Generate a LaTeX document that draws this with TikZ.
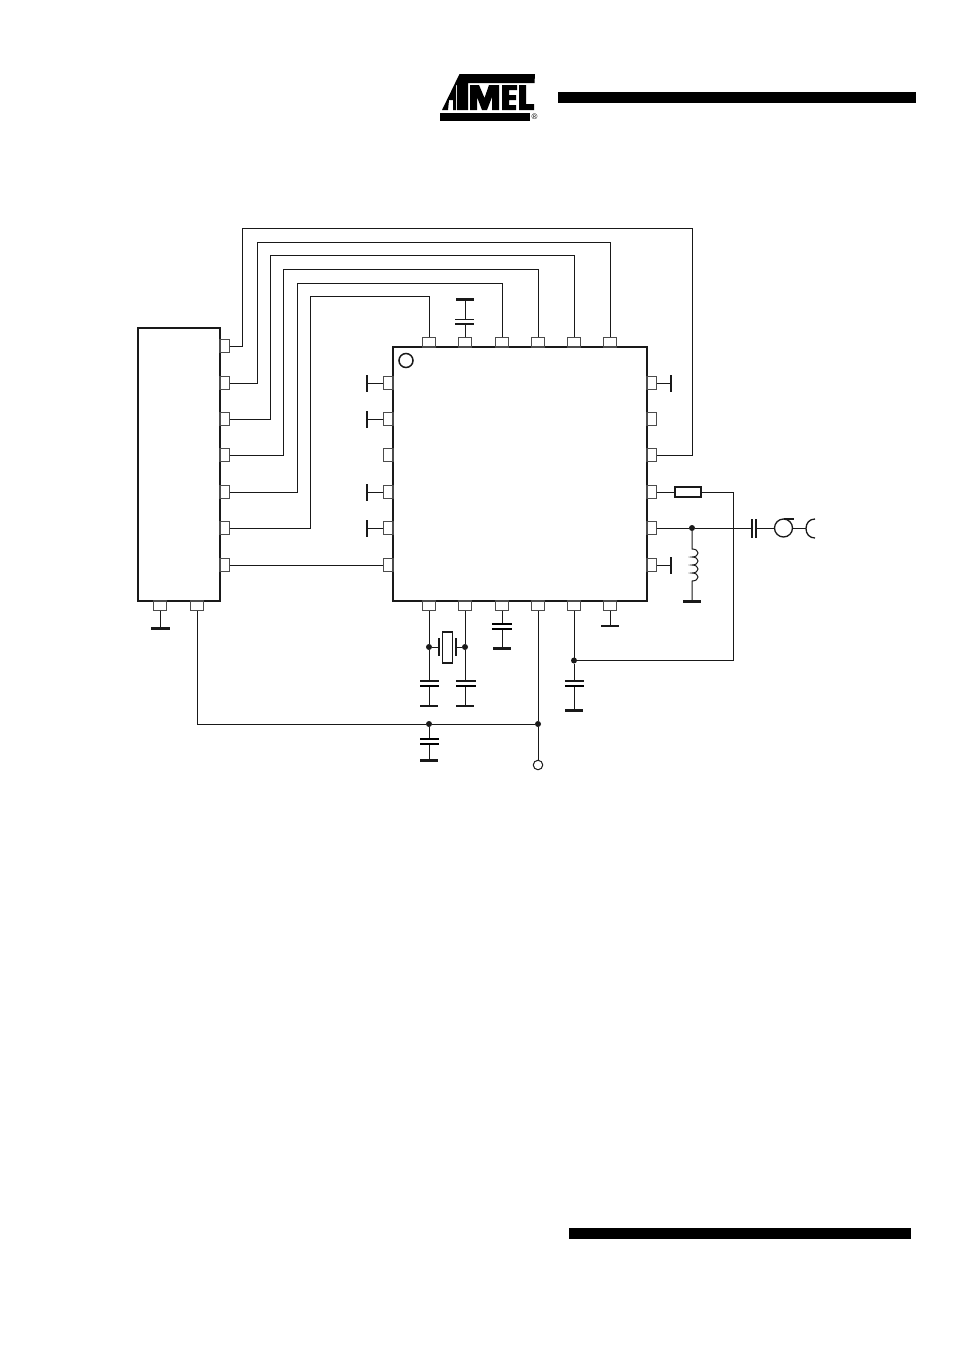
\documentclass[tikz,border=0pt]{standalone}
\usepackage{fontspec}
\setmainfont{Liberation Sans}
\begin{document}
\begin{tikzpicture}[x=1pt,y=-1pt,
  wire/.style={line width=1pt,black!90},
  chip/.style={draw=black!90,line width=2pt,fill=white,inner sep=0pt,outer sep=0pt},
  pin/.style={draw=black!70,line width=1.2pt,fill=white,inner sep=0pt,outer sep=0pt,minimum width=9.5pt,minimum height=13pt},
  pinv/.style={draw=black!70,line width=1.2pt,fill=white,inner sep=0pt,outer sep=0pt,minimum width=13pt,minimum height=9.5pt},
  dot/.style={circle,fill=black!90,inner sep=0pt,outer sep=0pt,minimum size=6pt},
  plate/.style={line width=1.5pt,black!90},
  gndthick/.style={line width=3pt,black!90},
  gndthin/.style={line width=2pt,black!90},
  stub/.style={line width=2pt,black!90},
  open/.style={circle,draw=black!90,line width=1pt,fill=white,inner sep=0pt,outer sep=0pt,minimum size=9.5pt},
  solid black/.style={fill=black,draw=none}]
\useasboundingbox (0,0) rectangle (954,1350);
\fill[white] (0,0) rectangle (954,1350);
% header and footer bars
\fill[solid black] (558,92) rectangle (916,103);
\fill[solid black] (569,1228) rectangle (911,1239);
% logo
\fill[solid black] (459.5,74) -- (535,74) -- (534.5,83) -- (468,83) -- (468,110) -- (457,110) -- (457,85) -- (456,85) -- (456,110) -- (453,110) -- (453,100) -- (449,100) -- (448,110) -- (442,110) -- cycle;
\fill[solid black] (470,85) -- (479,85) -- (484.5,98) -- (489,85) -- (499,85) -- (499,110) -- (492,110) -- (492,97) -- (487,110) -- (482,110) -- (477,97) -- (477,110) -- (470,110) -- cycle;
\fill[solid black] (502,85) -- (517,85) -- (517,90) -- (509,90) -- (509,95) -- (516,95) -- (516,100) -- (509,100) -- (509,105) -- (516,105) -- (516,110) -- (502,110) -- cycle;
\fill[solid black] (519,85) -- (526,85) -- (526,104) -- (534,104) -- (534,110) -- (519,110) -- cycle;
\fill[solid black] (440,113) rectangle (530,120.5);
\node[font=\fontsize{8}{8}\selectfont,inner sep=0pt] (reg) at (534.5,117) {®};
% chips
\node[chip,minimum width=82pt,minimum height=273pt,anchor=north west] (drv) at (138,328) {};
\node[chip,minimum width=254pt,minimum height=254pt,anchor=north west] (ic) at (393,347) {};
\node[open,minimum size=14pt,line width=1.5pt] (mark) at (406,360.5) {};
% pins of the left chip
\foreach \n/\y in {1/346,2/383,3/419,4/455,5/492,6/528,7/565}
  \node[pin] (d\n) at (224.8,\y) {};
\foreach \n/\x in {a/160,b/197}
  \node[pinv] (d\n) at (\x,605.8) {};
% pins of the main chip
\foreach \n/\x in {1/429,2/465,3/502,4/538,5/574,6/610} {
  \node[pinv] (t\n) at (\x,342.2) {};
  \node[pinv] (b\n) at (\x,605.8) {};
}
\foreach \n/\y in {1/383,2/419,3/455,4/492,5/528,6/565} {
  \node[pin] (l\n) at (388.2,\y) {};
  \node[pin] (r\n) at (651.8,\y) {};
}
% bus
\draw[wire] (d1.east) -- (242.5,346) -- (242.5,228) -- (692,228) -- (692,455) -- (r3.east);
\draw[wire] (d2.east) -| (257,242) -| (t6.north);
\draw[wire] (d3.east) -| (270,255) -| (t5.north);
\draw[wire] (d4.east) -| (283.5,269) -| (t4.north);
\draw[wire] (d5.east) -| (297,283) -| (t3.north);
\draw[wire] (d6.east) -| (310.5,296) -| (t1.north);
\draw[wire] (d7.east) -- (l6.west);
% stubs
\foreach \n in {1,2,4,5} {
  \coordinate (s\n) at ([xshift=-16pt]l\n.west);
  \draw[wire] (l\n.west) -- (s\n);
  \draw[stub] ([yshift=-8.5pt]s\n) -- ([yshift=8.5pt]s\n);
}
\foreach \n in {1,6} {
  \coordinate (q\n) at ([xshift=14pt]r\n.east);
  \draw[wire] (r\n.east) -- (q\n);
  \draw[stub] ([yshift=-8.5pt]q\n) -- ([yshift=8.5pt]q\n);
}
% ground of left chip
\coordinate (g0) at (160,628.5);
\draw[wire] (da.south) -- (g0);
\draw[gndthick] (151,628.5) -- (170,628.5);
% top cap
\coordinate (tc) at (465,299.5);
\draw[wire] (t2.north) -- (465,324) (465,319.5) -- (tc);
\draw[plate] (455,319.5) -- (474,319.5);
\draw[plate] (455,324) -- (474,324);
\draw[gndthick] (456,299.5) -- (474,299.5);
% bottom network
\node[dot] (j1) at (429,647) {};
\node[dot] (j2) at (465,647) {};
\node[dot] (j3) at (574,660.5) {};
\node[dot] (j4) at (429,724) {};
\node[dot] (j5) at (538,724) {};
\node[open] (vs) at (538,765) {};
\draw[wire] (b4.south) -- (j5) -- (vs);
\draw[wire] (db.south) |- (j4) -- (j5);
% crystal
\draw[wire] (j1) -- (439,647);
\draw[wire] (j2) -- (456,647);
\draw[stub] (439,638) -- (439,656);
\draw[stub] (456,638) -- (456,656);
\node[draw=black!90,line width=1.6pt,fill=white,minimum width=10pt,minimum height=31pt,inner sep=0pt] (xt) at (447.5,647.5) {};
% caps under pins
\draw[wire] (b1.south) -- (j1) -- (429,681) (429,686) -- (429,706);
\draw[plate] (420,681) -- (439,681);
\draw[line width=2pt] (420,686) -- (439,686);
\draw[gndthin] (420,706) -- (438,706);
\draw[wire] (b2.south) -- (j2) -- (465,681) (465,686) -- (465,706);
\draw[plate] (456,681) -- (476,681);
\draw[line width=2pt] (456,686) -- (476,686);
\draw[gndthin] (456,706) -- (474,706);
\draw[wire] (b3.south) -- (502,624) (502,629) -- (502,648);
\draw[line width=2pt] (492,624) -- (512,624);
\draw[line width=2pt] (492,629) -- (512,629);
\draw[gndthick] (493,648) -- (511,648);
\draw[wire] (b5.south) -- (j3) -- (574,681) (574,686) -- (574,710);
\draw[plate] (565,681) -- (584,681);
\draw[line width=2pt] (565,686) -- (584,686);
\draw[gndthick] (565,710) -- (583,710);
\draw[wire] (b6.south) -- (610,626);
\draw[gndthin] (601,626) -- (619,626);
\draw[wire] (j4) -- (429,739) (429,744) -- (429,760.5);
\draw[line width=2pt] (420,739) -- (439,739);
\draw[line width=2pt] (420,744) -- (439,744);
\draw[gndthick] (420,760.5) -- (438,760.5);
% right side
\node[draw=black!90,line width=1.6pt,fill=white,minimum width=26pt,minimum height=10pt,inner sep=0pt,outer sep=0pt] (res) at (688,492) {};
\draw[wire] (r4.east) -- (res.west);
\draw[wire] (res.east) -- (733.5,492) -- (733.5,660.5) -- (j3);
\node[dot] (j6) at (692,528) {};
\draw[wire] (r5.east) -- (j6) -- (751.5,528);
\draw[stub] (751.5,519) -- (751.5,538);
\draw[stub] (756,519) -- (756,538);
\node[circle,draw=black!90,line width=1.3pt,minimum size=18pt,inner sep=0pt,outer sep=0pt] (rx) at (783.5,528) {};
\draw[wire] (756,528) -- (rx.west);
\draw[line width=1.2pt,black!90] (783.5,519) -- (793.5,519);
\coordinate (ant) at (806,528);
\draw[wire] (rx.east) -- (ant);
\draw[line width=1.3pt,black!90] (815,519) .. controls (809.5,519) and (806,523) .. (806,528.5) .. controls (806,534) and (809.5,538) .. (815,538);
% inductor
\draw[wire] (j6) -- (692,549)
  .. controls (700,549) and (700,557) .. (692,557)
  .. controls (700,557) and (700,565) .. (692,565)
  .. controls (700,565) and (700,573) .. (692,573)
  .. controls (700,573) and (700,581) .. (692,581)
  -- (692,601);
\draw[gndthick] (683,601) -- (701,601);
\end{tikzpicture}
\end{document}
